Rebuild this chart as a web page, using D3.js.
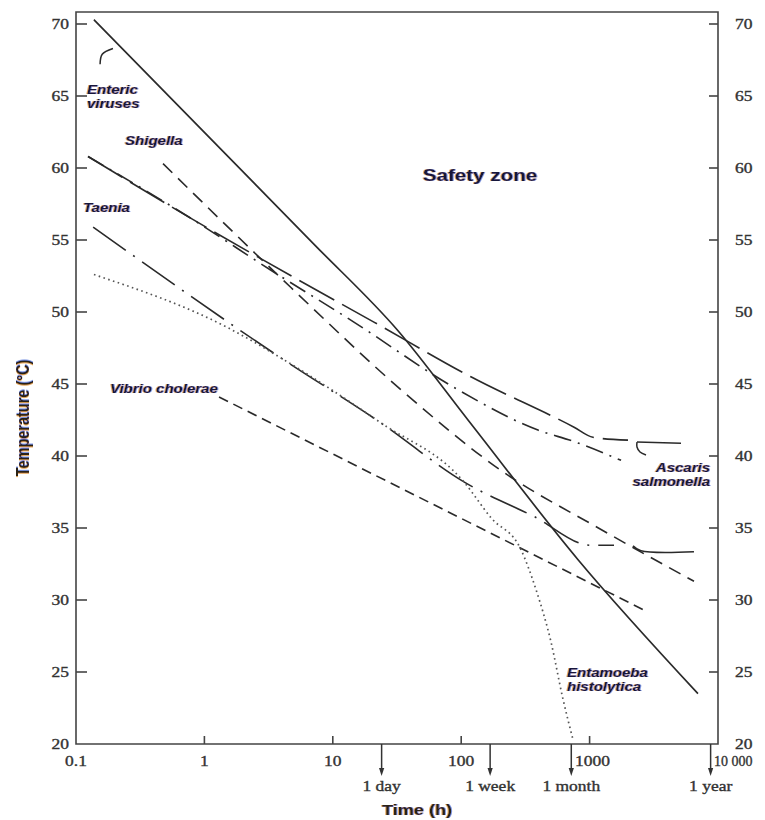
<!DOCTYPE html>
<html>
<head>
<meta charset="utf-8">
<script src="https://cdn.jsdelivr.net/npm/d3@7"></script>
<style>
  body { margin: 0; background: #fff; }
  svg { display: block; }
</style>
</head>
<body>
<svg id="chart" width="765" height="820">
  <defs>
    <!-- coloured edge fringe on the printed lettering -->
    <filter id="fringe" x="-10%" y="-30%" width="120%" height="160%">
      <feFlood flood-color="#e0902e" flood-opacity="0.75" result="orange"/>
      <feComposite in="orange" in2="SourceAlpha" operator="in" result="orangeText"/>
      <feOffset in="orangeText" dx="-0.9" dy="0.3" result="orangeShift"/>
      <feFlood flood-color="#4d6fd8" flood-opacity="0.7" result="blue"/>
      <feComposite in="blue" in2="SourceAlpha" operator="in" result="blueText"/>
      <feOffset in="blueText" dx="0.9" dy="-0.3" result="blueShift"/>
      <feMerge>
        <feMergeNode in="orangeShift"/>
        <feMergeNode in="blueShift"/>
        <feMergeNode in="SourceGraphic"/>
      </feMerge>
    </filter>
  </defs>
</svg>
<script>
// Time–temperature survival limits of pathogens (log time axis)

// ---- data -------------------------------------------------------------
const entericHours = [0.138, 7.15, 32.2, 113, 813, 6980];
const entericTemps = [70.3, 54.7, 48.7, 42.5, 32.8, 23.5];

const shigellaHours = [0.476, 4.72, 34, 204, 1227, 6500];
const shigellaTemps = [60.3, 51.7, 44.6, 39.0, 34.9, 31.3];

const ascarisHours = [0.124, 0.787, 4.99, 20.9, 119, 757, 1062, 1991];
const ascarisTemps = [60.8, 56.5, 52.4, 49.3, 45.5, 42.0, 41.3, 41.1];

const salmonellaHours = [0.124, 0.787, 3.30, 14.6, 94.4, 396, 757, 1758];
const salmonellaTemps = [60.8, 56.5, 52.9, 49.3, 44.6, 41.8, 41.0, 39.7];

const taeniaHours = [0.136, 3.96, 23.7, 105, 369, 1026, 1549];
const taeniaTemps = [55.9, 46.8, 42.3, 38.2, 35.8, 33.8, 33.8];

const vibrioHours = [1.3, 2655];
const vibrioTemps = [44.1, 29.3];

const entamoebaHours = [0.138, 1.53, 3.96, 23.7, 105, 171, 292, 383, 500, 621, 743];
const entamoebaTemps = [52.6, 48.9, 46.8, 42.3, 38.2, 35.7, 33.5, 30.7, 27.1, 23.1, 20.3];

// small bracket strokes at the ends of some curves
const ascarisHookHours = [2339, 2339, 2469, 2749];
const ascarisHookTemps = [40.97, 40.63, 40.28, 40.07];
const ascarisTailHours = [2339, 5150];
const ascarisTailTemps = [40.97, 40.88];
const taeniaTailHours = [2178, 2512, 6500];
const taeniaTailTemps = [33.76, 33.42, 33.35];
const entericLeaderHours = [0.154, 0.160, 0.194];
const entericLeaderTemps = [67.2, 67.9, 68.3];

// axes
const tempTicks = [20, 25, 30, 35, 40, 45, 50, 55, 60, 65, 70];
const timeTicks = [0.1, 1, 10, 100, 1000, 10000];
const timeTickLabels = ["0.1", "1", "10", "100", "1000", "10 000"];
const periodHours = [24, 168, 720, 8760];
const periodLabels = ["1 day", "1 week", "1 month", "1 year"];

// annotations
const labelLines = [["Enteric", "viruses"], ["Shigella"], ["Taenia"], ["Vibrio cholerae"],
                    ["Ascaris", "salmonella"], ["Entamoeba", "histolytica"]];
const labelHours = [0.1218, 0.241, 0.1134, 0.184, 8670, 667];
const labelTemps = [65.14, 61.6, 56.94, 44.37, 38.89, 24.65];
const labelAnchors = ["start", "start", "start", "start", "end", "start"];
const zoneLabel = "Safety zone";
const zoneHours = 140, zoneTemp = 59.1;

// ---- scales -----------------------------------------------------------
const x = d3.scaleLog().domain([0.1, 10000]).range([76, 718]);
const y = d3.scaleLinear().domain([20, 70]).range([744, 24]);
const frameTop = 12;
const SX = 1.25;           // horizontal stretch of the lettering

const svg = d3.select("#chart");

const INK = "#2a2a2a";
const LABEL_INK = "#17173a";

function stretchedText(parent, px, py, str, o) {
  const g = parent.append("g")
    .attr("transform", `translate(${px},${py}) scale(${o.sx ?? SX},1)` + (o.rotate ? ` rotate(${o.rotate})` : ""));
  if (o.fringe) g.attr("filter", "url(#fringe)");
  const t = g.append("text")
    .attr("dy", o.dy || 0)
    .attr("text-anchor", o.anchor || "start")
    .attr("font-family", o.family)
    .attr("font-size", o.size)
    .attr("font-weight", o.weight || "normal")
    .attr("font-style", o.style || "normal")
    .attr("fill", o.fill)
    .text(str);
  if (o.stroke) t.attr("stroke", o.fill).attr("stroke-width", o.stroke);
  return g;
}

const serif = {family: "'Liberation Serif', 'Times New Roman', serif", size: 14, fill: "#333", stroke: 0.35};
const sansBI = {family: "'Liberation Sans', Arial, sans-serif", size: 12, weight: "bold", style: "italic", fill: LABEL_INK, fringe: true};

// ---- frame & axes -----------------------------------------------------
const axisG = svg.append("g").attr("stroke", "#444").attr("stroke-width", 1.6).attr("fill", "none");
axisG.append("path")
  .attr("d", `M${x(0.1)},${y(20)}V${frameTop}H${x(10000)}V${y(20)}H${x(0.1)}Z`);

axisG.selectAll(".lt").data(tempTicks.filter(t => t > 20)).join("line")
  .attr("x1", x(0.1)).attr("x2", x(0.1) + 11)
  .attr("y1", d => y(d)).attr("y2", d => y(d));
axisG.selectAll(".rt").data(tempTicks.filter(t => t > 20)).join("line")
  .attr("x1", x(10000)).attr("x2", x(10000) - 9)
  .attr("y1", d => y(d)).attr("y2", d => y(d));
axisG.selectAll(".bt").data(timeTicks.slice(1, -1)).join("line")
  .attr("x1", d => x(d)).attr("x2", d => x(d))
  .attr("y1", y(20)).attr("y2", y(20) - 8);

tempTicks.forEach(t => {
  stretchedText(svg, x(0.1) - 7, y(t), String(t), {...serif, anchor: "end", dy: "0.35em"});
  stretchedText(svg, x(10000) + 17, y(t), String(t), {...serif, anchor: "start", dy: "0.35em"});
});
timeTicks.forEach((t, i) => {
  if (t === 10000) stretchedText(svg, x(t) - 4, 766, timeTickLabels[i], {...serif, anchor: "start", sx: 1.0});
  else stretchedText(svg, x(t) + (t === 1000 ? 3 : 0), 766, timeTickLabels[i], {...serif, anchor: "middle"});
});

// time-period markers under the axis
const arrowG = svg.append("g");
periodHours.forEach((h, i) => {
  const px = x(h);
  arrowG.append("line").attr("x1", px).attr("x2", px).attr("y1", y(20)).attr("y2", 772)
    .attr("stroke", "#333").attr("stroke-width", 1.5);
  arrowG.append("path").attr("d", `M${px - 2.6},${768}L${px + 2.6},${768}L${px},${776}Z`).attr("fill", "#333");
  stretchedText(svg, px, 791, periodLabels[i], {...serif, anchor: "middle"});
});

// axis titles
stretchedText(svg, 29, 418, "Temperature (°C)",
  {family: "'Liberation Sans', Arial, sans-serif", size: 14.5, weight: "bold", fill: "#2a2018", anchor: "middle", rotate: -90, fringe: true});
stretchedText(svg, 417, 815, "Time (h)",
  {family: "'Liberation Sans', Arial, sans-serif", size: 14.5, weight: "bold", fill: "#2a2018", anchor: "middle", fringe: true});

// ---- curves -----------------------------------------------------------
const seriesTable = [
  {hours: entericHours, temps: entericTemps, dash: null, width: 1.7, color: INK},
  {hours: shigellaHours, temps: shigellaTemps, dash: "13,8", width: 1.6, color: INK},
  {hours: ascarisHours, temps: ascarisTemps, dash: "40,9", width: 1.6, color: INK},
  {hours: salmonellaHours, temps: salmonellaTemps, dash: "18,7,2,7", width: 1.6, color: INK},
  {hours: taeniaHours, temps: taeniaTemps, dash: "40,9,2,9", width: 1.6, color: INK},
  {hours: vibrioHours, temps: vibrioTemps, dash: "10,6", width: 1.6, color: INK},
  {hours: entamoebaHours, temps: entamoebaTemps, dash: "1.6,3.4", width: 1.7, color: "#555"}
];

const line = d3.line().x(d => x(d[0])).y(d => y(d[1])).curve(d3.curveMonotoneX);
const zip = (a, b) => a.map((v, i) => [v, b[i]]);

const curveG = svg.append("g").attr("fill", "none");
seriesTable.forEach(s => {
  curveG.append("path")
    .attr("d", line(zip(s.hours, s.temps)))
    .attr("stroke", s.color)
    .attr("stroke-width", s.width)
    .attr("stroke-dasharray", s.dash)
    .attr("stroke-linecap", "butt");
});

const strokeLine = d3.line().x(d => x(d[0])).y(d => y(d[1])).curve(d3.curveCatmullRom);
[[ascarisHookHours, ascarisHookTemps], [ascarisTailHours, ascarisTailTemps],
 [taeniaTailHours, taeniaTailTemps], [entericLeaderHours, entericLeaderTemps]].forEach(([h, t]) => {
  curveG.append("path").attr("d", strokeLine(zip(h, t)))
    .attr("stroke", INK).attr("stroke-width", 1.5);
});

// ---- annotations ------------------------------------------------------
labelLines.forEach((lines, i) => {
  lines.forEach((str, j) => {
    stretchedText(svg, x(labelHours[i]), y(labelTemps[i]) + j * 14, str, {...sansBI, anchor: labelAnchors[i]});
  });
});
stretchedText(svg, x(zoneHours), y(zoneTemp), zoneLabel,
  {family: "'Liberation Sans', Arial, sans-serif", size: 16.5, weight: "bold", fill: LABEL_INK, anchor: "middle", fringe: true});
</script>
</body>
</html>
